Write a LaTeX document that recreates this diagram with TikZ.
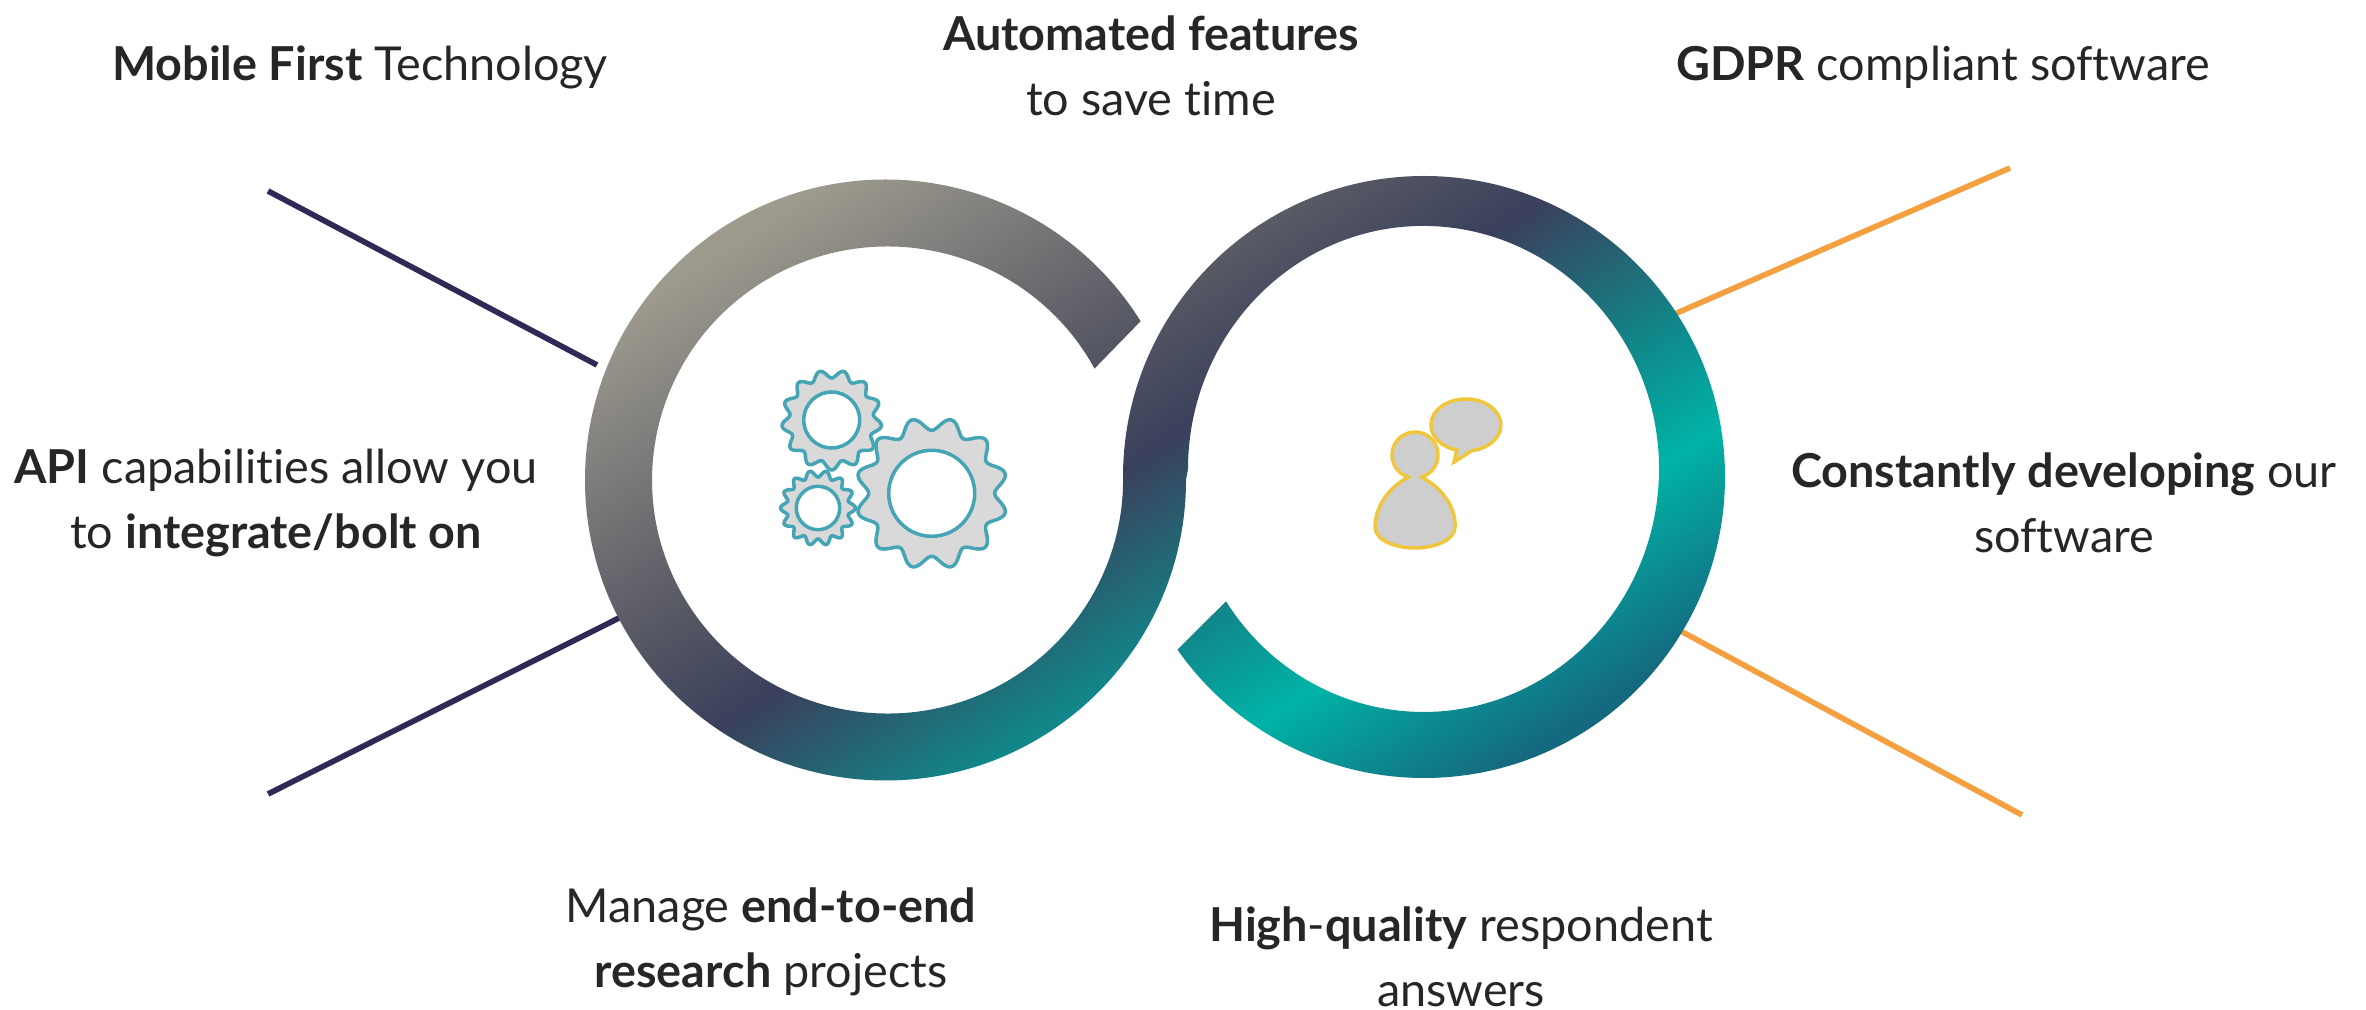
\documentclass[tikz,border=0pt]{standalone}
\usepackage{fontspec}
\setmainfont{Lato}[Ligatures=CommonOff]
\usepackage{tikz}
\usepackage{pgf,pgffor}

\definecolor{ribbona}{HTML}{9E9A8E}
\definecolor{ribbonb}{HTML}{555763}
\definecolor{ribbonc}{HTML}{3A405C}
\definecolor{ribbond}{HTML}{0F8A8C}
\definecolor{ribbone}{HTML}{00B3A6}
\definecolor{ribbonf}{HTML}{15697F}
\definecolor{navyline}{HTML}{2F2A55}
\definecolor{orangeline}{HTML}{F5A040}
\definecolor{geargrey}{HTML}{D9D9D9}
\definecolor{gearline}{HTML}{45A5B5}
\definecolor{personline}{HTML}{F0C63C}
\definecolor{labelcol}{HTML}{262626}

\pgfdeclarehorizontalshading{ribbon}{100bp}{
	color(0bp)=(ribbona); color(34.64bp)=(ribbona); color(44.9bp)=(ribbonb);
	color(49.1bp)=(ribbonc); color(55.57bp)=(ribbond); color(59.32bp)=(ribbone);
	color(65.36bp)=(ribbonf); color(100bp)=(ribbonf)}

\tikzset{
	label/.style={font=\fontsize{13.3}{18.5}\selectfont, text=labelcol, align=center, inner sep=0pt},
	spoke/.style={line width=1.6pt, line cap=butt},
	gear/.style={fill=geargrey, draw=gearline, line width=1pt},
	person/.style={fill=geargrey!95!black, draw=personline, line width=1pt}
}

\begin{document}
\begin{tikzpicture}[x=0.01cm,y=-0.01cm]
	\useasboundingbox (0,0) rectangle (2366,1010);

	\coordinate (tl) at (268,191);
	\coordinate (tlend) at (597,365);
	\coordinate (bl) at (268,794);
	\coordinate (blend) at (625,615);
	\coordinate (tr) at (2010,168);
	\coordinate (trend) at (1670,316);
	\coordinate (br) at (2022,815);
	\coordinate (brend) at (1675,628);

	\draw [spoke, color=navyline] (tl) -- (tlend);
	\draw [spoke, color=navyline] (bl) -- (blend);
	\draw [spoke, color=orangeline] (tr) -- (trend);
	\draw [spoke, color=orangeline] (br) -- (brend);

	\begin{scope}
		\clip (1140.6,321.2) -- (1094.5,368.6)
			arc [start angle=-28.5, end angle=-360, x radius=235.5, y radius=233.5]
			-- (1123,477)
			arc [start angle=180, end angle=505, radius=301]
			-- (1226,601.3)
			arc [start angle=147, end angle=-180, x radius=235.5, y radius=243]
			-- (1186,480)
			arc [start angle=0, end angle=328.1, radius=300.5]
			-- cycle;
		\shade [shading=ribbon, shading angle=-57.3] (455,-220) rectangle (1855,1180);
	\end{scope}

	\foreach \gx/\gy/\grin/\grout/\gteeth/\gphase/\ghole in {931.7/493.3/63/76/12/15/43, 831.7/420/42/50/13/-6.92/28, 818/508/31/37.5/14/0/21.7} {
		\draw [gear] plot [domain=0:359, samples=240, smooth cycle] ({\gx+(0.5*(\grin+\grout)+0.5*(\grout-\grin)*cos(\gteeth*(\x+\gphase)))*cos(\x)},{\gy+(0.5*(\grin+\grout)+0.5*(\grout-\grin)*cos(\gteeth*(\x+\gphase)))*sin(\x)});
		\draw [draw=gearline, fill=white, line width=1pt] (\gx,\gy) circle [radius=\ghole];
	}

	\draw [person] (1408.3,477) arc [start angle=107, end angle=433, radius=23]
		.. controls (1445,490) and (1456,510) .. (1455,527)
		.. controls (1455,540) and (1435,548) .. (1415,548)
		.. controls (1395,548) and (1375,540) .. (1375,527)
		.. controls (1375,510) and (1385,490) .. (1408.3,477) -- cycle;
	\draw [person] (1472,450.6) arc [start angle=80, end angle=-255, x radius=35, y radius=26]
		-- (1454,462) -- cycle;

	\node [label] (mobile) at (360,67) {\textbf{Mobile First} Technology};
	\node [label] (automated) at (1151,66) {\textbf{Automated features}\\to save time};
	\node [label] (gdpr) at (1943,67) {\textbf{GDPR} compliant software};
	\node [label] (api) at (276,503) {\textbf{API} capabilities allow you\\to \textbf{integrate/bolt on}};
	\node [label] (developing) at (2064,503) {\textbf{Constantly developing} our\\software};
	\node [label] (manage) at (771,942) {Manage \textbf{end-to-end}\\\textbf{research} projects};
	\node [label] (quality) at (1461,957) {\textbf{High}-\textbf{quality} respondent\\answers};
\end{tikzpicture}
\end{document}
